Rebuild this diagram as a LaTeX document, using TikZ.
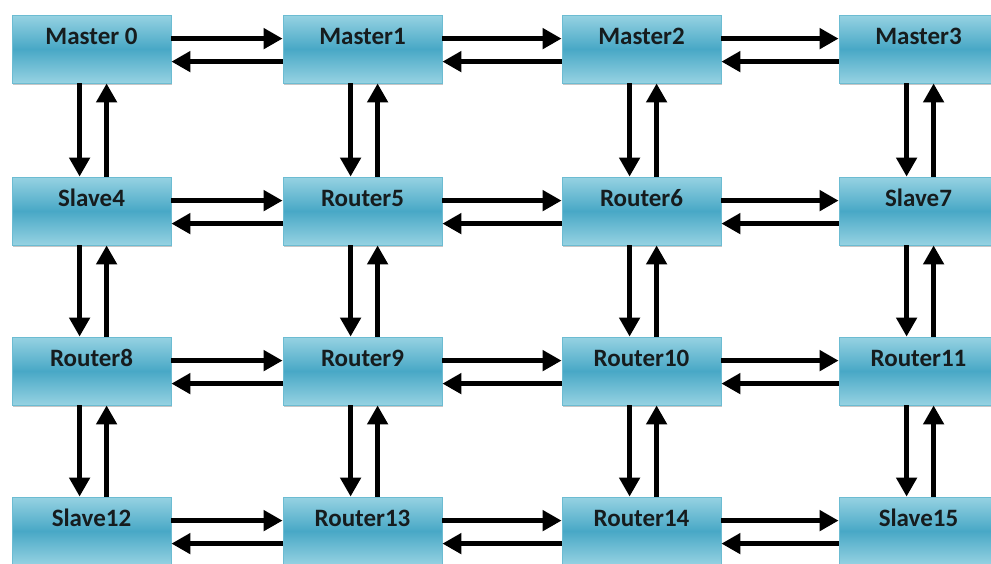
\documentclass[tikz,border=0pt]{standalone}
\usepackage{fontspec}
\setmainfont{Carlito}
\usepackage{tikz}
\usetikzlibrary{positioning}
\usetikzlibrary{arrows.meta}
\usetikzlibrary{shadows}
\definecolor{boxtop}{RGB}{150,210,226}
\definecolor{boxmid}{RGB}{72,168,198}
\definecolor{boxedge}{RGB}{108,188,210}
\definecolor{labeltext}{RGB}{22,28,30}

\begin{document}
\begin{tikzpicture}[x=1pt,y=-1pt,->,>={Triangle[length=19pt,width=20pt]},line width=5.5pt]
    \tikzstyle{unit}=[draw=boxedge, line width=0.8pt, top color=boxtop, bottom color=boxtop, middle color=boxmid,
        minimum width=159pt, minimum height=68pt, inner sep=0pt, text height=16pt, text depth=26pt,
        text=labeltext, font=\bfseries\fontsize{25}{29}\selectfont,
        drop shadow={shadow xshift=1pt, shadow yshift=-2pt, opacity=0.45}]
    \useasboundingbox (0,0) rectangle (991,563);
    %\draw[help lines] (0,0) grid (991,563);
    \node[unit] (0)  at (91.5,49)  {Master 0};
    \node[unit] (1)  at (362.5,49) {Master1};
    \node[unit] (2)  at (641.5,49) {Master2};
    \node[unit] (3)  at (918.5,49) {Master3};
    \node[unit] (4)  at (91.5,211)  {Slave4};
    \node[unit] (5)  at (362.5,211) {Router5};
    \node[unit] (6)  at (641.5,211) {Router6};
    \node[unit] (7)  at (918.5,211) {Slave7};
    \node[unit] (8)  at (91.5,371)  {Router8};
    \node[unit] (9)  at (362.5,371) {Router9};
    \node[unit] (10) at (641.5,371) {Router10};
    \node[unit] (11) at (918.5,371) {Router11};
    \node[unit] (12) at (91.5,531)  {Slave12};
    \node[unit] (13) at (362.5,531) {Router13};
    \node[unit] (14) at (641.5,531) {Router14};
    \node[unit] (15) at (918.5,531) {Slave15};

    \foreach \a/\b in {0/1,1/2,2/3,4/5,5/6,6/7,8/9,9/10,10/11,12/13,13/14,14/15} {
        \draw ([yshift=-24pt]\a.north east) -- ([yshift=-24pt]\b.north west);
        \draw ([yshift=-47pt]\b.north west) -- ([yshift=-47pt]\a.north east);
    }
    \foreach \a/\b in {0/4,1/5,2/6,3/7,4/8,5/9,6/10,7/11,8/12,9/13,10/14,11/15} {
        \draw ([xshift=68pt]\a.south west) -- ([xshift=68pt]\b.north west);
        \draw ([xshift=95pt]\b.north west) -- ([xshift=95pt]\a.south west);
    }
\end{tikzpicture}
\end{document}
